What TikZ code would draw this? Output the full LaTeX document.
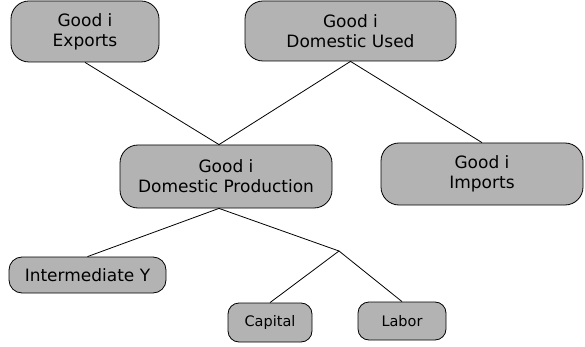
\documentclass[tikz,border=0pt]{standalone}
\usepackage{fontspec}
\setmainfont{DejaVu Sans}
\usetikzlibrary{positioning}
\definecolor{boxgray}{RGB}{179, 179, 179}
\tikzset{goodbox/.style = {draw, fill = boxgray, rounded corners = 18pt, align = center, inner sep = 0pt, font = \fontsize{17}{20}\selectfont},
         factorbox/.style = {goodbox, rounded corners = 11pt, font = \fontsize{14.5}{17}\selectfont}}

\begin{document}
\begin{tikzpicture}[x = 1pt, y = -1pt, line width = 0.8pt]
\useasboundingbox (0,0) rectangle (585,347);
\node[goodbox, minimum width = 148pt, minimum height = 61pt] (exports) at (85, 31.5) {Good i\\Exports};
\node[goodbox, minimum width = 211pt, minimum height = 60pt] (used) at (350.5, 31) {Good i\\Domestic Used};
\node[goodbox, minimum width = 212pt, minimum height = 63pt] (prod) at (226, 176.5) {Good i\\Domestic Production};
\node[goodbox, minimum width = 202pt, minimum height = 62pt] (imports) at (482, 174) {Good i\\Imports};
\node[goodbox, rounded corners = 13pt, minimum width = 157pt, minimum height = 36pt] (inter) at (87.5, 275) {Intermediate Y};
\node[factorbox, minimum width = 84pt, minimum height = 39pt] (capital) at (270, 322.5) {Capital};
\node[factorbox, minimum width = 88pt, minimum height = 38pt] (labor) at (402, 321) {Labor};
\coordinate (prodtop) at ([xshift = -7pt]prod.north);
\coordinate (prodbot) at ([xshift = -7pt]prod.south);
\coordinate (fork) at (339, 251);
\draw (exports.south) -- (prodtop) -- (used.south) -- (imports.north);
\draw (inter.north) -- (prodbot) -- (fork);
\draw (capital.north) -- (fork) -- (labor.north);
\end{tikzpicture}
\end{document}
